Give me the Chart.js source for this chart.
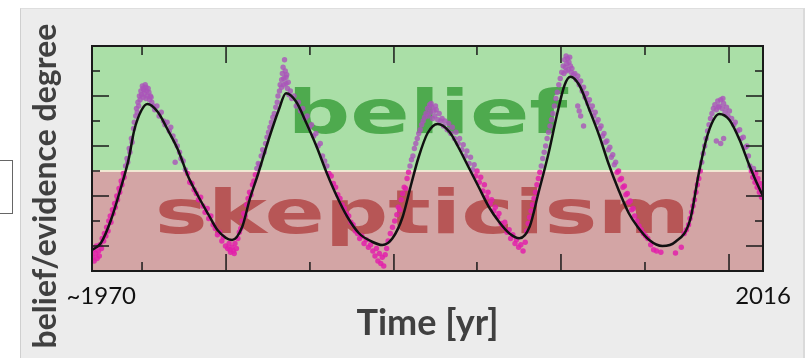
<!DOCTYPE html>
<html>
<head>
<meta charset="utf-8">
<script src="https://cdn.jsdelivr.net/npm/chart.js@4.4.1/dist/chart.umd.min.js"></script>
<style>
  body { margin: 0; background: #fff; }
  #wrap { position: relative; width: 808px; height: 358px; overflow: hidden; }
  #panel { position: absolute; left: 20px; top: 8px; width: 782px; height: 350px;
           background: #ececec; border-left: 1px solid #cfcfcf; border-top: 1px solid #dedede;
           border-right: 2px solid #dadada; }
  #box { position: absolute; left: -2px; top: 160px; width: 13px; height: 52px;
         border: 1px solid #666; background: #fff; }
  canvas { position: absolute; left: 0; top: 0; }
</style>
</head>
<body>
<div id="wrap">
  <div id="panel"></div>
  <div id="box"></div>
  <canvas id="myChart" width="808" height="358"></canvas>
</div>
<script>
const ctx = document.getElementById('myChart').getContext('2d');

// fitted curve (year, degree)
const fitYears = [1970.0,1970.6,1971.3,1972.0,1972.5,1972.9,1973.4,1973.8,1974.5,1975.2,1975.9,1976.6,1977.3,1978.0,1978.6,1979.6,
  1980.3,1980.8,1981.4,1982.1,1982.8,1983.3,1984.0,1984.7,1985.4,1986.1,1986.8,1987.5,1988.3,1989.2,1989.9,
  1990.6,1991.3,1991.9,1992.4,1993.0,1993.7,1994.5,1995.1,1995.8,1996.5,1997.2,1997.9,1998.6,1999.3,
  2000.0,2000.6,2001.3,2001.9,2002.4,2002.8,2003.4,2004.1,2004.8,2005.4,2006.1,2006.8,2007.4,2008.2,2009.1,
  2010.0,2011.0,2011.6,2012.1,2012.6,2013.0,2013.7,2014.4,2015.1,2015.9,2016.0];
const fitValues = [0.84,1.11,2.04,3.37,4.44,5.64,6.44,6.68,6.37,5.64,4.84,3.77,2.97,2.24,1.64,1.24,
  1.77,2.84,3.91,5.24,6.44,7.11,6.77,5.91,4.97,3.91,2.97,2.17,1.51,1.17,1.04,
  1.31,2.17,3.51,4.57,5.51,5.88,5.57,4.97,4.17,3.37,2.57,1.97,1.51,1.31,
  1.77,3.11,4.71,6.31,7.44,7.77,7.44,6.44,5.37,4.31,3.24,2.31,1.77,1.24,1.00,
  1.17,2.04,3.91,5.24,6.04,6.28,6.04,5.24,4.17,3.11,3.0];

// observed points [year, degree]
const observed = [
  [1970.05,0.55],[1970.1,0.85],[1970.15,0.4],[1970.25,0.7],[1970.3,1.0],[1970.35,0.5],[1970.45,0.8],[1970.5,0.6],[1970.55,1.05],[1970.65,0.9],
  [1970.7,1.3],[1970.8,1.2],[1970.85,1.5],[1970.95,1.4],[1971.0,1.75],[1971.1,1.6],[1971.15,2.0],[1971.25,2.2],[1971.3,1.95],[1971.4,2.45],
  [1971.45,2.3],[1971.55,2.7],[1971.6,2.55],[1971.7,3.0],[1971.75,2.85],[1971.85,3.3],[1971.9,3.15],[1972.0,3.6],[1972.05,3.45],[1972.15,3.9],
  [1972.2,3.75],[1972.3,4.2],[1972.4,4.5],[1972.45,4.35],[1972.55,4.9],[1972.6,4.75],[1972.7,5.3],[1972.75,5.15],[1972.85,5.7],[1972.9,5.95],
  [1973.0,6.2],[1973.05,6.5],[1973.1,6.35],[1973.15,6.75],[1973.2,6.6],[1973.25,7.0],[1973.3,6.85],[1973.35,7.2],[1973.4,7.05],[1973.45,7.4],
  [1973.5,6.95],[1973.55,7.25],[1973.6,7.1],[1973.65,7.45],[1973.7,6.9],[1973.75,7.2],[1973.8,7.0],[1973.9,7.15],[1973.95,6.85],[1974.0,7.0],
  [1974.1,6.75],[1974.2,6.6],[1973.5,7.3],[1973.7,7.35],[1973.85,7.3],[1974.05,6.95],
  [1974.3,6.45],[1974.45,6.6],[1974.6,6.2],[1974.75,6.35],[1974.9,6.0],[1975.0,5.85],[1975.15,5.95],[1975.3,5.6],[1975.4,5.75],[1975.55,5.4],
  [1975.7,4.35],[1975.7,5.2],[1975.85,5.0],[1976.0,4.75],[1976.1,4.5],[1976.25,4.4],[1976.4,4.05],[1976.55,3.9],[1976.7,3.55],[1976.85,3.5],
  [1977.0,3.25],[1977.15,3.1],[1977.3,2.85],[1977.45,2.95],[1977.6,2.6],[1977.75,2.35],[1977.9,2.5],[1978.0,2.1],[1978.15,2.2],[1978.3,1.85],
  [1978.45,1.7],[1978.6,1.45],[1978.75,1.55],[1978.9,1.2],[1979.0,1.35],[1979.15,1.0],[1979.3,0.9],[1979.4,1.1],[1979.5,0.75],[1979.6,0.95],
  [1979.7,0.8],[1979.8,1.1],[1979.9,0.9],[1979.45,0.85],[1979.75,0.7],
  [1980.0,1.3],[1980.1,1.55],[1980.2,1.7],[1980.3,2.0],[1980.4,2.3],[1980.5,2.2],[1980.6,2.65],[1980.7,2.9],[1980.8,3.15],[1980.9,3.05],
  [1981.0,3.45],[1981.1,3.6],[1981.2,3.85],[1981.3,4.1],[1981.4,4.3],[1981.5,4.25],[1981.6,4.6],[1981.7,4.85],[1981.8,4.75],[1981.9,5.1],
  [1982.0,5.35],[1982.1,5.55],[1982.2,5.75],[1982.3,5.95],[1982.4,6.15],[1982.5,6.3],[1982.6,6.55],[1982.7,6.75],[1982.75,7.0],[1982.85,7.2],
  [1982.9,7.45],[1983.0,7.65],[1983.05,7.9],[1983.1,8.15],[1983.15,7.7],[1983.2,8.45],[1983.25,8.0],[1983.3,7.5],[1983.35,7.85],[1983.4,7.3],
  [1983.5,7.05],[1983.6,7.2],[1983.0,7.35],[1983.15,7.45],[1983.3,7.75],[1983.45,7.55],
  [1983.7,6.9],[1983.85,7.0],[1984.0,6.6],[1984.15,6.75],[1984.3,6.4],[1984.45,6.5],[1984.6,6.1],[1984.75,6.2],[1984.9,5.75],[1985.05,5.85],
  [1985.2,5.4],[1985.35,5.5],[1985.5,5.0],[1985.65,5.1],[1985.8,4.6],[1985.95,4.4],[1986.1,4.2],[1986.25,3.9],[1986.4,3.8],[1986.55,3.5],
  [1986.7,3.35],[1986.85,3.05],[1987.0,2.9],[1987.15,2.65],[1987.3,2.5],[1987.45,2.3],[1987.6,2.2],[1987.75,1.95],[1987.9,1.85],[1988.05,1.6],
  [1988.2,1.5],[1988.35,1.3],[1988.5,1.4],[1988.65,1.1],[1988.8,1.25],[1988.95,0.95],[1989.1,1.05],[1989.25,0.8],[1989.4,0.6],[1989.5,0.9],
  [1989.6,0.4],[1989.7,0.7],[1989.8,0.3],[1989.9,0.55],[1990.0,0.2],[1990.1,0.65],[1990.2,0.9],
  [1990.3,1.2],[1990.45,1.5],[1990.6,1.75],[1990.75,2.0],[1990.9,2.25],[1991.0,2.55],[1991.1,2.45],[1991.2,2.85],[1991.3,3.1],[1991.4,3.35],
  [1991.5,3.3],[1991.6,3.7],[1991.7,3.95],[1991.8,4.2],[1991.9,4.45],[1992.0,4.6],[1992.1,4.9],[1992.2,5.1],[1992.3,5.3],[1992.4,5.5],
  [1992.5,5.65],[1992.6,5.85],[1992.7,6.0],[1992.8,6.15],[1992.9,6.3],[1993.0,6.5],[1993.05,6.2],[1993.15,6.65],[1993.2,6.35],[1993.3,6.55],
  [1993.35,6.1],[1993.45,6.4],[1993.5,6.2],[1993.6,6.45],[1993.7,6.05],[1993.8,6.3],[1993.9,6.0],[1993.25,6.7],[1993.55,6.6],
  [1994.0,6.1],[1994.1,5.8],[1994.2,6.0],[1994.35,5.65],[1994.45,5.9],[1994.6,5.5],[1994.7,5.75],[1994.85,5.3],[1994.95,5.55],[1995.1,5.1],
  [1995.2,5.3],[1995.35,4.85],[1995.45,5.05],[1995.6,4.6],[1995.7,4.8],[1995.85,4.3],[1995.95,4.55],[1996.1,4.05],[1996.2,4.25],[1996.3,3.8],
  [1996.4,4.0],[1996.55,3.55],[1996.65,3.75],[1996.8,3.2],[1996.9,3.45],[1997.05,2.95],[1997.15,3.15],[1997.3,2.7],[1997.4,2.85],[1997.55,2.4],
  [1997.65,2.55],[1997.8,2.15],[1997.9,2.3],[1998.05,1.9],[1998.2,1.75],[1998.3,1.95],[1998.45,1.55],[1998.6,1.65],[1998.7,1.3],[1998.85,1.45],
  [1999.0,1.1],[1999.1,1.25],[1999.25,0.95],[1999.4,1.05],[1999.55,0.8],[1999.7,1.15],
  [1999.8,1.6],[1999.9,1.9],[2000.0,2.15],[2000.1,2.4],[2000.2,2.65],[2000.3,2.9],[2000.4,3.15],[2000.5,3.45],[2000.6,3.7],[2000.7,3.95],
  [2000.8,4.2],[2000.9,4.5],[2001.0,4.75],[2001.1,5.0],[2001.2,5.3],[2001.3,5.55],[2001.4,5.8],[2001.5,6.05],[2001.6,6.3],[2001.7,6.6],
  [2001.8,6.9],[2001.9,7.15],[2002.0,7.45],[2002.1,7.7],[2002.2,7.95],[2002.3,8.2],[2002.35,7.9],[2002.4,8.45],[2002.45,8.15],[2002.5,8.6],
  [2002.55,8.3],[2002.6,8.5],[2002.65,8.05],[2002.7,8.35],[2002.8,8.2],[2002.85,7.95],[2002.9,8.1],[2003.0,7.85],[2002.5,8.0],[2002.75,8.55],
  [2003.1,7.9],[2003.2,7.65],[2003.3,7.8],[2003.4,7.45],[2003.5,7.6],[2003.6,7.2],[2003.7,7.35],[2003.8,6.95],[2003.9,7.1],[2004.0,6.7],
  [2004.1,6.85],[2004.2,6.45],[2004.3,6.6],[2004.4,6.2],[2004.5,6.35],[2004.6,5.95],[2004.7,6.05],[2004.8,5.7],[2004.9,5.8],[2005.0,5.4],
  [2005.1,5.5],[2005.2,5.15],[2005.3,5.2],[2005.4,4.85],[2005.5,4.95],[2005.6,4.55],[2005.7,4.65],[2005.8,4.25],[2005.9,4.35],[2006.0,3.95],
  [2006.1,4.0],[2006.2,3.65],[2006.3,3.7],[2006.4,3.35],[2006.5,3.4],[2006.6,3.05],[2006.7,3.1],[2006.8,2.75],[2006.9,2.8],[2007.0,2.45],
  [2007.1,2.5],[2007.2,2.2],[2007.35,2.0],[2007.5,1.8],[2007.65,1.65],[2007.8,1.5],[2007.95,1.4],[2008.1,1.3],
  [2003.3,6.6],[2003.5,6.2],[2003.7,5.8],[2003.4,6.4],
  [2008.3,1.05],[2008.5,0.85],[2008.7,0.8],[2009.0,0.75],[2010.0,0.72],[2010.4,0.95],
  [2010.6,1.5],[2010.75,1.65],[2010.9,1.85],[2011.0,2.1],[2011.1,2.35],[2011.2,2.6],[2011.3,2.85],[2011.4,3.15],[2011.5,3.45],[2011.6,3.7],
  [2011.7,4.0],[2011.8,4.35],[2011.9,4.7],[2012.0,5.0],[2012.1,5.3],[2012.2,5.6],[2012.3,5.85],[2012.4,6.1],[2012.5,6.3],[2012.6,6.5],
  [2012.7,6.65],[2012.8,6.45],[2012.9,6.8],[2013.0,6.6],[2013.1,6.85],[2013.2,6.5],[2013.3,6.7],[2013.4,6.35],[2013.5,6.55],[2013.6,6.2],
  [2013.7,6.4],[2012.8,5.2],[2013.1,5.1],[2013.3,5.3],[2012.95,6.55],[2013.25,6.9],
  [2013.85,6.1],[2014.0,5.85],[2014.1,5.95],[2014.25,5.6],[2014.4,5.65],[2014.5,5.3],[2014.65,5.35],[2014.8,4.95],[2014.9,5.0],[2015.0,4.6],
  [2015.1,4.2],[2015.2,4.0],[2015.3,3.75],[2015.35,4.1],[2015.45,3.55],[2015.5,3.9],[2015.6,3.35],[2015.65,3.7],[2015.75,3.15],[2015.8,3.5],
  [2015.9,2.95],[2015.95,3.3]
];

// axes
const xLabelYears = [1970, 2016];
const xTickLabels = ['   ~1970', '2016'];
const xMajorTicks = [1979.19, 1990.70, 2002.15, 2013.67];
const xMinorTicks = [1973.43, 1984.94, 1996.39, 2007.91];
const yMajorTicks = [1, 3, 5, 7];
const yMinorTicks = [2, 4, 6, 8];
const zoneSplit = 4;
const words = [
  { text: 'belief', from: 1983.4, to: 2002.6, y: 5.52, color: 'rgb(78,170,78)' },
  { text: 'skepticism', from: 1974.3, to: 2011.0, y: 1.52, color: 'rgb(183,86,86)' }
];

const fitData = fitYears.map((yr, i) => ({ x: yr, y: fitValues[i] }));

const backdrop = {
  id: 'backdrop',
  beforeDatasetsDraw(chart) {
    const c = chart.ctx, a = chart.chartArea;
    const xs = chart.scales.x, ys = chart.scales.y;
    const split = ys.getPixelForValue(zoneSplit);
    c.save();
    c.fillStyle = '#aadfa7';
    c.fillRect(a.left, a.top, a.right - a.left, split - a.top);
    c.fillStyle = '#d3a5a5';
    c.fillRect(a.left, split, a.right - a.left, a.bottom - split);
    c.strokeStyle = 'rgba(245,235,215,0.9)';
    c.lineWidth = 2;
    c.beginPath(); c.moveTo(a.left, split); c.lineTo(a.right, split); c.stroke();

    c.beginPath(); c.rect(a.left, a.top, a.right - a.left, a.bottom - a.top); c.clip();
    words.forEach(w => {
      c.font = 'bold 60px "DejaVu Sans"';
      const x0 = xs.getPixelForValue(w.from), x1 = xs.getPixelForValue(w.to);
      const sx = (x1 - x0) / c.measureText(w.text).width;
      c.save();
      c.translate(x0, ys.getPixelForValue(w.y));
      c.scale(sx, 1);
      c.fillStyle = w.color;
      c.textBaseline = 'alphabetic';
      c.fillText(w.text, 0, 0);
      c.restore();
    });
    c.restore();
  },
  afterDatasetsDraw(chart) {
    const c = chart.ctx, a = chart.chartArea;
    const xs = chart.scales.x, ys = chart.scales.y;
    c.save();
    c.strokeStyle = '#1a1a1a';
    c.lineWidth = 2;
    c.strokeRect(a.left, a.top, a.right - a.left, a.bottom - a.top);
    c.lineWidth = 1.5;
    c.beginPath();
    const xt = (v, len) => {
      const p = xs.getPixelForValue(v);
      c.moveTo(p, a.top); c.lineTo(p, a.top + len);
      c.moveTo(p, a.bottom); c.lineTo(p, a.bottom - len);
    };
    const yt = (v, len) => {
      const p = ys.getPixelForValue(v);
      c.moveTo(a.left, p); c.lineTo(a.left + len, p);
      c.moveTo(a.right, p); c.lineTo(a.right - len, p);
    };
    xMajorTicks.forEach(v => xt(v, 17));
    xMinorTicks.forEach(v => xt(v, 9));
    yMajorTicks.forEach(v => yt(v, 17));
    yMinorTicks.forEach(v => yt(v, 8));
    c.stroke();

    // y axis title
    c.translate(46, 186);
    c.rotate(-Math.PI / 2);
    c.font = 'bold 32px Lato';
    c.fillStyle = '#404040';
    c.textAlign = 'center';
    c.textBaseline = 'middle';
    c.fillText('belief/evidence degree', 0, 0);
    c.restore();
  }
};

const myChart = new Chart(ctx, {
  type: 'scatter',
  data: {
    datasets: [{
      type: 'line',
      label: 'fit',
      data: fitData,
      borderColor: '#111',
      borderWidth: 2.5,
      pointRadius: 0,
      cubicInterpolationMode: 'monotone',
      fill: false
    }, {
      type: 'scatter',
      label: 'observed',
      data: observed,
      pointRadius: 2.7,
      borderWidth: 0,
      backgroundColor: c => (c.raw && c.raw[1] > zoneSplit) ? 'rgba(170,84,186,0.8)' : 'rgba(226,32,170,0.85)'
    }]
  },
  options: {
    responsive: false,
    animation: false,
    layout: { padding: { left: 92, right: 45, top: 46, bottom: 0 } },
    plugins: { legend: { display: false }, tooltip: { enabled: false } },
    scales: {
      x: {
        type: 'linear',
        min: 1970,
        max: 2016,
        grid: { display: false },
        border: { display: false },
        afterBuildTicks: s => { s.ticks = xLabelYears.map(v => ({ value: v })); },
        afterFit: s => { s.height = 87; },
        ticks: {
          autoSkip: false,
          maxRotation: 0,
          padding: 3,
          color: '#111',
          font: { family: 'Lato', size: 24 },
          callback: v => xTickLabels[xLabelYears.indexOf(v)]
        },
        title: {
          display: true,
          text: 'Time [yr]',
          color: '#404040',
          font: { family: 'Lato', size: 36, weight: 'bold' },
          padding: { top: 0, bottom: 13 }
        }
      },
      y: { display: false, min: 0, max: 9 }
    }
  },
  plugins: [backdrop]
});
</script>
</body>
</html>
